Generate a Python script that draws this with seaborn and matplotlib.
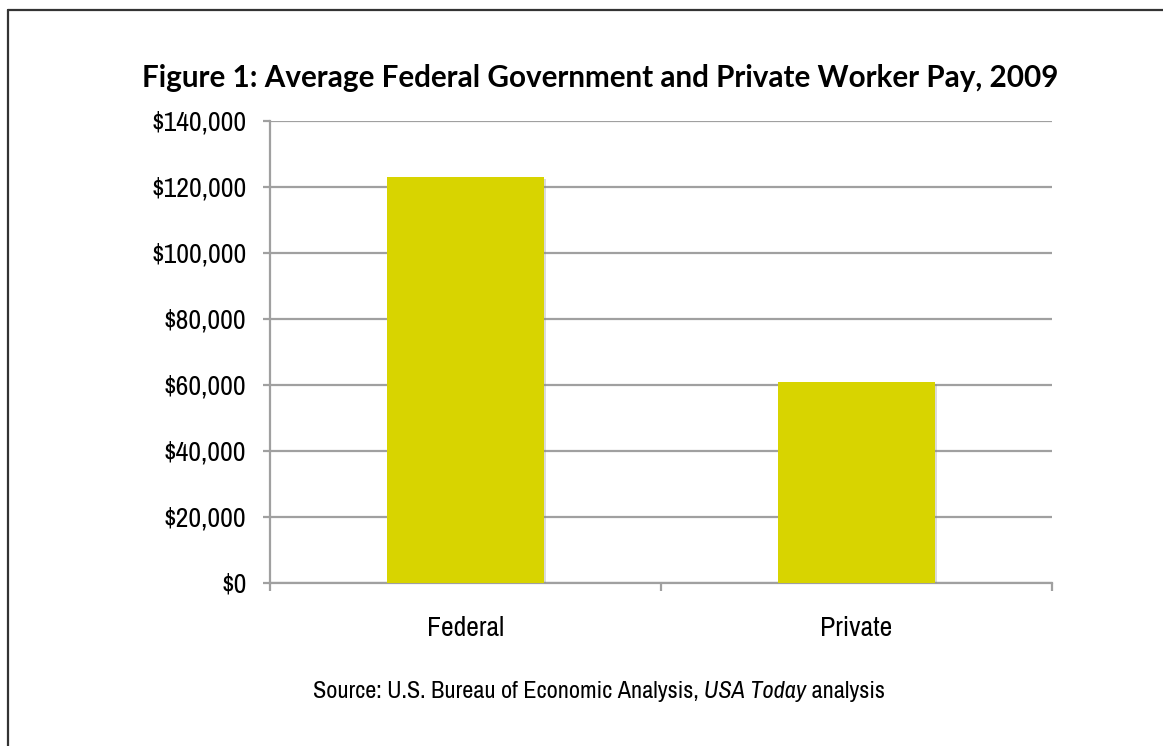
import matplotlib
matplotlib.use("Agg")
import matplotlib.pyplot as plt
import seaborn as sns
import pandas as pd
from matplotlib.lines import Line2D
from matplotlib.ticker import FuncFormatter, FixedLocator
from matplotlib import patheffects as pe

categories = ["Federal", "Private"]
pay = [123000, 61000]
yticks = [0, 20000, 40000, 60000, 80000, 100000, 120000, 140000]
title = "Figure 1: Average Federal Government and Private Worker Pay, 2009"
source_parts = ["Source: U.S. Bureau of Economic Analysis, ", "USA Today", " analysis"]

sns.set_theme(style="white")
plt.rcParams['font.family'] = ['Archivo Narrow', 'Roboto Condensed', 'DejaVu Sans']

grid_c = "#A0A0A0"
bar_c = "#D8D400"

fig = plt.figure(figsize=(11.63, 7.46), dpi=100)
fig.patch.set_facecolor("white")
ax = fig.add_axes([270/1163, 1-583/746, (1052-270)/1163, (583-121)/746])

df = pd.DataFrame({"cat": categories, "pay": pay})
sns.barplot(data=df, x="cat", y="pay", color=bar_c, saturation=1, width=0.4, ax=ax, zorder=3)
for p in ax.patches:
    p.set_edgecolor("none")
    p.set_path_effects([pe.SimplePatchShadow(offset=(1.5, -1.5), shadow_rgbFace="#888888", alpha=0.3), pe.Normal()])

ax.set_xlim(-0.5, 1.5)
ax.set_ylim(0, 140000)
ax.set_yticks(yticks)
ax.yaxis.set_major_formatter(FuncFormatter(lambda v, p: f"${v:,.0f}"))
ax.yaxis.grid(True, color=grid_c, linewidth=1.6)
ax.set_axisbelow(True)
ax.set_xlabel("")
ax.set_ylabel("")
for s in ["top", "right"]:
    ax.spines[s].set_visible(False)
for s in ["left", "bottom"]:
    ax.spines[s].set_color(grid_c)
    ax.spines[s].set_linewidth(1.6)
ax.tick_params(axis="y", left=True, length=5, width=1.6, color=grid_c, labelsize=20, pad=12, labelcolor="black")
ax.tick_params(axis="x", which="major", length=0, labelsize=20, pad=24, labelcolor="black")
ax.xaxis.set_minor_locator(FixedLocator([-0.5, 0.5, 1.5]))
ax.tick_params(axis="x", which="minor", bottom=True, length=6, width=1.6, color=grid_c)

fig.text(600/1163, 1-78/746, title, ha="center", va="center", fontsize=21.3,
         fontweight="bold", family=["Lato", "DejaVu Sans"], color="black")

# source line with italic part, centered
renderer = fig.canvas.get_renderer()
styles = ["normal", "italic", "normal"]
texts = []
for part, st in zip(source_parts, styles):
    t = fig.text(0, 1-691/746, part, ha="left", va="center", fontsize=17.5, style=st, color="black")
    texts.append(t)
widths = [t.get_window_extent(renderer).width for t in texts]
total = sum(widths)
x0 = 599 - total/2
for t, w in zip(texts, widths):
    t.set_x(x0/1163)
    x0 += w

# outer frame (top and left)
fig.add_artist(Line2D([8/1163, 1.0], [1-10/746, 1-10/746], color="#333333", linewidth=1.6, transform=fig.transFigure))
fig.add_artist(Line2D([8/1163, 8/1163], [0, 1-10/746], color="#333333", linewidth=1.6, transform=fig.transFigure))

fig.savefig("out.png", dpi=100)
